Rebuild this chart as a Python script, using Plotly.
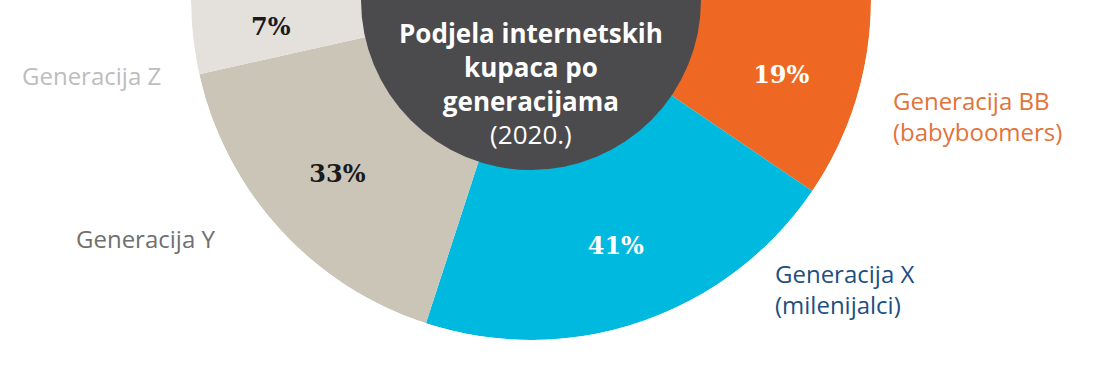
import plotly.graph_objects as go
import numpy as np

W, H = 1095, 367

# Data
segments = ["Generacija BB (babyboomers)", "Generacija X (milenijalci)", "Generacija Y", "Generacija Z"]
shares = [19, 41, 33, 7]
pct_labels = ["19%", "41%", "33%", "7%"]
seg_colors = ["#EE6823", "#00B9DF", "#CBC5B8", "#E4E0DB"]
pct_text_colors = ["#FFFFFF", "#FFFFFF", "#1A1A1A", "#1A1A1A"]

title_lines = ["Podjela internetskih", "kupaca po", "generacijama"]
title_year = "(2020.)"

# half-donut: 100% spans 180 degrees
deg_per_pct = 180 / sum(shares)
widths = [s * deg_per_pct for s in shares]
starts = np.concatenate([[0], np.cumsum(widths)[:-1]])
mids = [s + w / 2 for s, w in zip(starts, widths)]

fig = go.Figure()
fig.add_trace(go.Barpolar(
    r=[1] * len(shares), theta=mids, width=widths,
    marker=dict(color=seg_colors, line=dict(width=0)),
    hoverinfo="skip", showlegend=False,
))
fig.add_trace(go.Barpolar(
    r=[0.5], theta=[90], width=[180],
    marker=dict(color="#4B4A4C", line=dict(width=0)),
    hoverinfo="skip", showlegend=False,
))
fig.add_trace(go.Scatterpolar(
    r=[0.77] * len(shares), theta=mids, mode="text",
    text=pct_labels,
    textfont=dict(family="DejaVu Serif", size=24, color=pct_text_colors, weight="bold"),
    hoverinfo="skip", showlegend=False,
))

fig.update_layout(
    width=W, height=H,
    margin=dict(l=0, r=0, t=0, b=0),
    paper_bgcolor="white",
    showlegend=False,
    polar=dict(
        domain=dict(x=[190 / W, 872 / W], y=[27 / H, 1]),
        sector=[180, 360],
        bgcolor="rgba(0,0,0,0)",
        barmode="overlay",
        radialaxis=dict(range=[0, 1], visible=False),
        angularaxis=dict(direction="clockwise", rotation=0, visible=False),
    ),
)

def px(x, y):
    return x / W, 1 - y / H

def add_text(text, x, y, color, size, family="Open Sans", weight="normal", xanchor="center", align="center"):
    ax, ay = px(x, y)
    fig.add_annotation(
        x=ax, y=ay, xref="paper", yref="paper", text=text, showarrow=False,
        xanchor=xanchor, yanchor="middle", align=align,
        font=dict(family=family, size=size, color=color, weight=weight),
    )

# centre title (one block)
title_text = "<br>".join(f"<b>{t}</b>" for t in title_lines) + f"<br>{title_year}"
add_text(title_text, 531, 83, "#FFFFFF", 26, family="Open Sans")

# outer labels
add_text("Generacija Z", 20, 76, "#BDBDBD", 24, xanchor="left")
add_text("Generacija Y", 74, 239, "#707070", 24, xanchor="left")
add_text("Generacija BB<br>(babyboomers)", 891, 116, "#E2733A", 24, xanchor="left", align="left")
add_text("Generacija X<br>(milenijalci)", 773, 289, "#1E4F80", 24, xanchor="left", align="left")

fig.write_html("out.html", config={"displayModeBar": False},
               post_script="document.body.style.margin='0px';")
